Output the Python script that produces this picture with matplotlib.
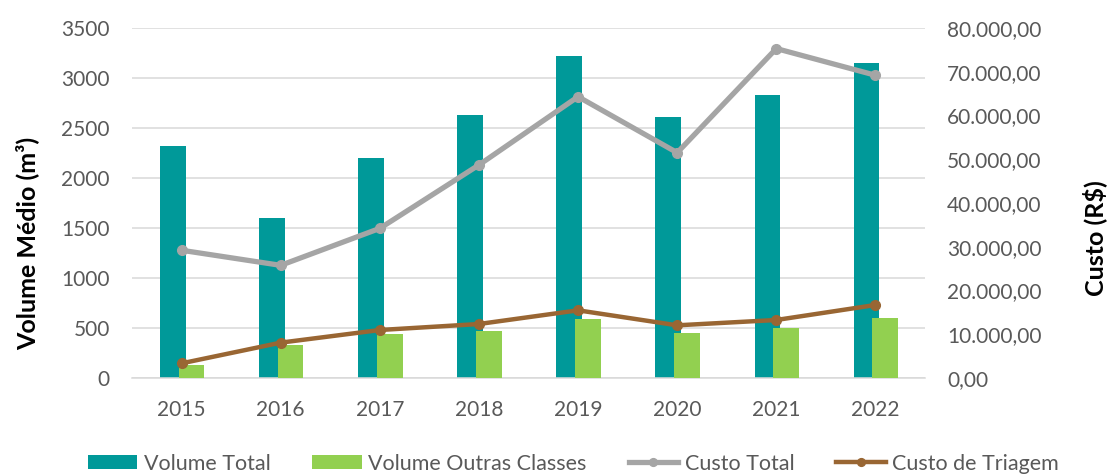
import matplotlib.pyplot as plt
import numpy as np
from matplotlib.ticker import FuncFormatter

years = ['2015', '2016', '2017', '2018', '2019', '2020', '2021', '2022']
volume_total = [2320, 1600, 2200, 2630, 3225, 2610, 2828, 3146]
volume_outras = [126, 335, 445, 468, 591, 455, 505, 605]
custo_total = [29200, 25750, 34200, 48700, 64300, 51500, 75300, 69200]
custo_triagem = [3350, 8080, 10970, 12340, 15470, 12040, 13260, 16690]

plt.rcParams['font.family'] = ['Lato', 'DejaVu Sans']
txt = '#595959'

fig = plt.figure(figsize=(11.13, 4.74), dpi=100)
ax = fig.add_axes([132 / 1113, 1 - 378 / 474, (925 - 132) / 1113, 350 / 474])
ax2 = ax.twinx()

x = np.arange(len(years))
ax.bar(x - 0.09, volume_total, width=0.26, color='#009999', label='Volume Total', zorder=2)
ax.bar(x + 0.1, volume_outras, width=0.26, color='#92D050', label='Volume Outras Classes', zorder=3)

ax2.plot(x, custo_total, color='#A5A5A5', lw=3.8, marker='o', ms=7, label='Custo Total')
ax2.plot(x, custo_triagem, color='#996633', lw=3.2, marker='o', ms=7, label='Custo de Triagem')

ax.set_xlim(-0.5, 7.5)
ax.set_ylim(0, 3500)
ax.set_yticks(range(0, 3501, 500))
ax2.set_ylim(0, 80000)
ax2.set_yticks(range(0, 80001, 10000))
ax2.yaxis.set_major_formatter(FuncFormatter(
    lambda v, p: f'{v:,.2f}'.replace(',', 'X').replace('.', ',').replace('X', '.')))

ax.set_xticks(x)
ax.set_xticklabels(years)
ax.grid(axis='y', color='#D9D9D9', lw=1.1, zorder=0)
ax.set_axisbelow(True)
for a in (ax, ax2):
    for s in a.spines.values():
        s.set_visible(False)
    a.tick_params(length=0, labelsize=15, colors=txt)
ax.spines['bottom'].set_visible(True)
ax.spines['bottom'].set_color('#D9D9D9')
ax.spines['bottom'].set_linewidth(1.1)
ax.tick_params(axis='x', pad=16)
ax.tick_params(axis='y', pad=16)
ax2.tick_params(axis='y', pad=16)

fig.text(27 / 1113, 1 - 243 / 474, 'Volume Médio (m³)', rotation=90, ha='center', va='center',
         fontsize=18, fontweight='bold', color='black')
fig.text(1095 / 1113, 1 - 238 / 474, 'Custo (R$)', rotation=90, ha='center', va='center',
         fontsize=18, fontweight='bold', color='black')

h1, l1 = ax.get_legend_handles_labels()
h2, l2 = ax2.get_legend_handles_labels()
fig.legend(h1 + h2, l1 + l2, loc='center', bbox_to_anchor=(0.515, 0.022), ncol=4,
           frameon=False, fontsize=15.5, labelcolor=txt, handlelength=2.3, handleheight=0.65,
           handletextpad=0.3, columnspacing=1.95, markerscale=0.8)

fig.savefig('out.png', dpi=100)
